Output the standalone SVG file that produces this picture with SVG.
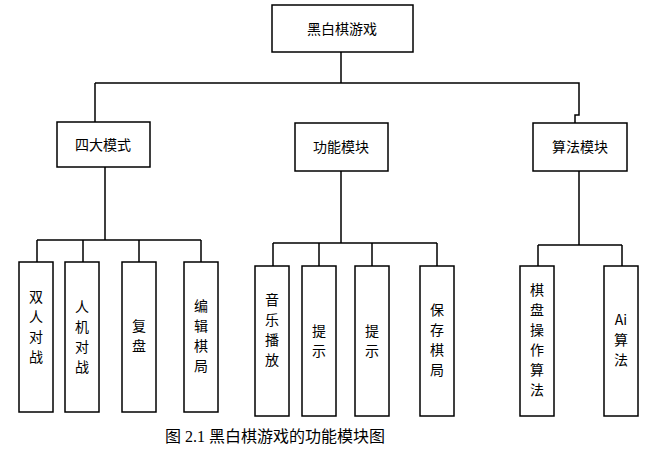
<svg xmlns="http://www.w3.org/2000/svg" width="647" height="451" viewBox="0 0 647 451">
<style>
.b{fill:#fff;stroke:#000;stroke-width:1.5}
.t{font-family:"Noto Sans CJK SC",sans-serif;font-size:14px;text-anchor:middle}
.c{fill:none;stroke:#000;stroke-width:1.5}
</style>
<rect width="647" height="451" fill="#fff"/>
<g id="connectors">
<path class="c" d="M341 52V83M95 83H579V115H575V123M105 167V240M37 240H201M37 240V262M83 240V262M139 240V262M201 240V262M341 171V243M273 243H437M273 243V266M319 243V266M372 243V266M437 243V266M579 171V245M538 245H622M538 245V266M622 245V266"/>
<path class="c" d="M95 83V122"/>
</g>
<g id="root"><rect class="b" x="272" y="5" width="141" height="47"/><text class="t" x="342" y="34">黑白棋游戏</text></g>
<g id="n1"><rect class="b" x="57" y="122" width="93" height="45"/><text class="t" x="103" y="150">四大模式</text></g>
<g id="n2"><rect class="b" x="295" y="123" width="93" height="48"/><text class="t" x="341" y="152">功能模块</text></g>
<g id="n3"><rect class="b" x="533" y="123" width="94" height="48"/><text class="t" x="580" y="152">算法模块</text></g>
<g id="l1"><rect class="b" x="19" y="262" width="34" height="150"/><text class="t" x="36"><tspan x="36" y="302">双</tspan><tspan x="36" y="322">人</tspan><tspan x="36" y="342">对</tspan><tspan x="36" y="362">战</tspan></text></g>
<g id="l2"><rect class="b" x="65" y="262" width="34" height="150"/><text class="t" x="82"><tspan x="82" y="312">人</tspan><tspan x="82" y="332">机</tspan><tspan x="82" y="352">对</tspan><tspan x="82" y="372">战</tspan></text></g>
<g id="l3"><rect class="b" x="122" y="262" width="34" height="150"/><text class="t" x="139"><tspan x="139" y="331">复</tspan><tspan x="139" y="351">盘</tspan></text></g>
<g id="l4"><rect class="b" x="184" y="262" width="34" height="150"/><text class="t" x="201"><tspan x="201" y="311">编</tspan><tspan x="201" y="331">辑</tspan><tspan x="201" y="351">棋</tspan><tspan x="201" y="371">局</tspan></text></g>
<g id="l5"><rect class="b" x="255" y="266" width="34" height="150"/><text class="t" x="272"><tspan x="272" y="305">音</tspan><tspan x="272" y="325">乐</tspan><tspan x="272" y="345">播</tspan><tspan x="272" y="365">放</tspan></text></g>
<g id="l6"><rect class="b" x="302" y="266" width="34" height="150"/><text class="t" x="319"><tspan x="319" y="336">提</tspan><tspan x="319" y="356">示</tspan></text></g>
<g id="l7"><rect class="b" x="355" y="266" width="34" height="150"/><text class="t" x="372"><tspan x="372" y="336">提</tspan><tspan x="372" y="356">示</tspan></text></g>
<g id="l8"><rect class="b" x="420" y="266" width="34" height="150"/><text class="t" x="437"><tspan x="437" y="315">保</tspan><tspan x="437" y="335">存</tspan><tspan x="437" y="355">棋</tspan><tspan x="437" y="375">局</tspan></text></g>
<g id="l9"><rect class="b" x="520" y="266" width="34" height="150"/><text class="t" x="537"><tspan x="537" y="295">棋</tspan><tspan x="537" y="315">盘</tspan><tspan x="537" y="335">操</tspan><tspan x="537" y="355">作</tspan><tspan x="537" y="375">算</tspan><tspan x="537" y="395">法</tspan></text></g>
<g id="l10"><rect class="b" x="604" y="266" width="34" height="150"/><text class="t" x="621"><tspan x="621" y="325">Ai</tspan><tspan x="621" y="345">算</tspan><tspan x="621" y="365">法</tspan></text></g>
<text x="165" y="442" style="font-family:'Liberation Serif','Noto Sans CJK SC',serif;font-size:16px">图 2.1 黑白棋游戏的功能模块图</text>
</svg>
